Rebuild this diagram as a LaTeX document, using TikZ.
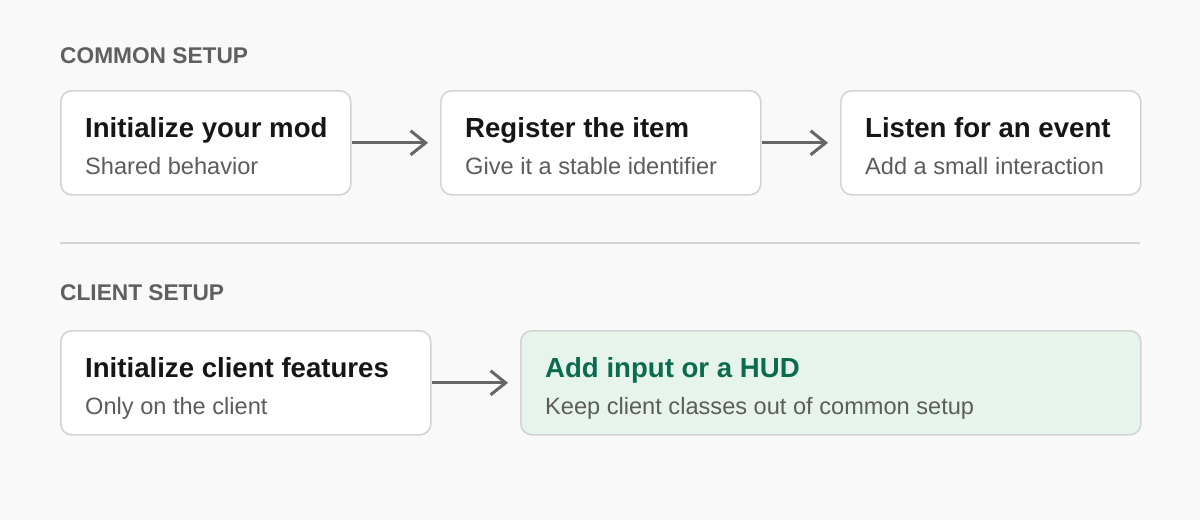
\documentclass[tikz,border=0pt]{standalone}
\usepackage{fontspec}
\setmainfont{Liberation Sans}
\usetikzlibrary{arrows.meta,calc}
\definecolor{bgc}{HTML}{F9F9F9}
\definecolor{bordc}{HTML}{D4D4D4}
\definecolor{titc}{HTML}{161616}
\definecolor{subc}{HTML}{5C5C5C}
\definecolor{headc}{HTML}{5F5F5F}
\definecolor{arrc}{HTML}{666666}
\definecolor{greenfill}{HTML}{E7F4EC}
\definecolor{greentext}{HTML}{0B6B4F}
\begin{document}
\begin{tikzpicture}[x=1pt,y=-1pt,
  card/.style={draw=bordc,line width=1.6pt,fill=white,rounded corners=11pt,
    minimum height=104pt,inner sep=0pt,anchor=north west},
  greencard/.style={card,fill=greenfill},
  ttl/.style={anchor=base west,inner sep=0pt,text=titc,font=\fontsize{27.6}{30}\selectfont\bfseries},
  gttl/.style={ttl,text=greentext},
  sub/.style={anchor=base west,inner sep=0pt,text=subc,font=\fontsize{23.6}{26}\selectfont},
  head/.style={anchor=base west,inner sep=0pt,text=headc,font=\fontsize{22.7}{26}\selectfont\bfseries},
  arr/.style={draw=arrc,line width=3pt,-{Straight Barb[length=15pt,width=24pt]},shorten >=12pt}]
\useasboundingbox (0,0) rectangle (1200,520);
\fill[bgc] (0,0) rectangle (1200,520);

\node[head] (h1) at (60,63) {COMMON SETUP};
\node[card,minimum width=290pt] (b1) at (60,90) {};
\node[card,minimum width=320pt] (b2) at (440,90) {};
\node[card,minimum width=300pt] (b3) at (840,90) {};

\node[ttl] (t1) at ($(b1.north west)+(25,47)$) {Initialize your mod};
\node[sub] (s1) at ($(b1.north west)+(25,84)$) {Shared behavior};
\node[ttl] (t2) at ($(b2.north west)+(25,47)$) {Register the item};
\node[sub] (s2) at ($(b2.north west)+(25,84)$) {Give it a stable identifier};
\node[ttl] (t3) at ($(b3.north west)+(25,47)$) {Listen for an event};
\node[sub] (s3) at ($(b3.north west)+(25,84)$) {Add a small interaction};

\draw[arr] (b1.east) -- (b2.west);
\draw[arr] (b2.east) -- (b3.west);

\coordinate (d1) at (60,243);
\coordinate (d2) at (1140,243);
\draw[draw=bordc,line width=2pt] (d1) -- (d2);

\node[head] (h2) at (60,300) {CLIENT SETUP};
\node[card,minimum width=370pt] (b4) at (60,330) {};
\node[greencard,minimum width=620pt] (b5) at (520,330) {};

\node[ttl] (t4) at ($(b4.north west)+(25,47)$) {Initialize client features};
\node[sub] (s4) at ($(b4.north west)+(25,84)$) {Only on the client};
\node[gttl] (t5) at ($(b5.north west)+(25,47)$) {Add input or a HUD};
\node[sub] (s5) at ($(b5.north west)+(25,84)$) {Keep client classes out of common setup};

\draw[arr] (b4.east) -- (b5.west);
\end{tikzpicture}
\end{document}
